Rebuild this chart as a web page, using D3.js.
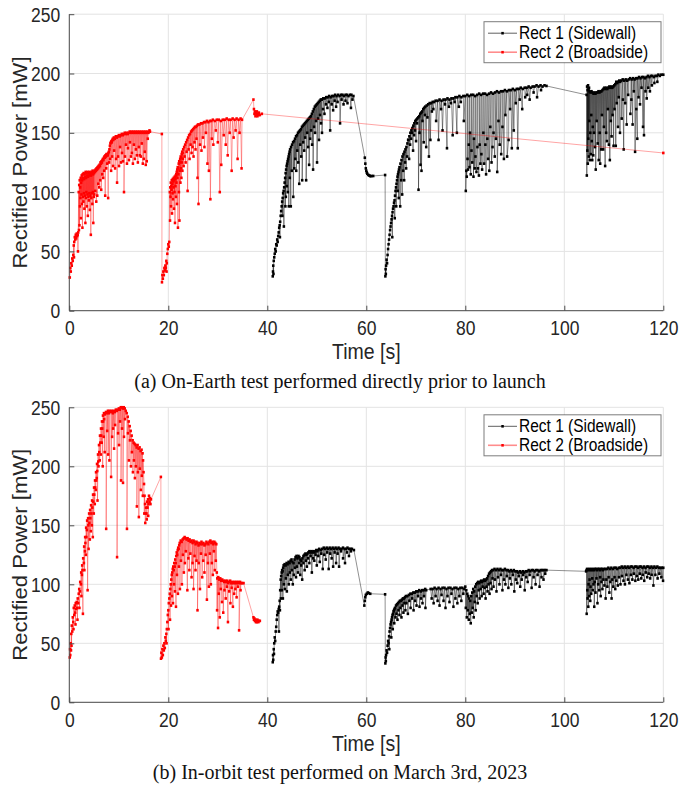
<!DOCTYPE html>
<html><head><meta charset="utf-8">
<script src="https://cdn.jsdelivr.net/npm/d3@7"></script>
<style>body{margin:0;background:#fff}</style>
</head><body><svg id="c" width="681" height="789"></svg>
<script>
// ---------------- DATA (time [s], power [mW]) ----------------
const xTicks = [0, 20, 40, 60, 80, 100, 120];
const yTicks = [0, 50, 100, 150, 200, 250];
const seriesNames = ["Rect 1 (Sidewall)", "Rect 2 (Broadside)"];
const captions = ["(a) On-Earth test performed directly prior to launch", "(b) In-orbit test performed on March 3rd, 2023"];

// Panel (a) Rect 2 upper envelope
const earthRect2Env = [[0.1,28],[0.2,36],[0.3,33],[0.4,40],[0.5,38],[0.6,44],[0.7,42],[0.8,47],[0.9,55],[1.0,58],[1.1,62],[1.2,60],[1.3,64],[1.4,61],[1.5,65],[1.6,63],[1.7,64],[1.8,66],[1.9,100],[2.0,106],[2.1,110],[2.2,104],[2.3,112],[2.4,108],[2.5,114],[2.6,110],[2.7,115],[2.8,112],[2.9,116],[3.0,111],[3.1,115],[3.2,113],[3.3,117],[3.4,112],[3.5,116],[3.6,114],[3.7,117],[3.8,113],[3.9,116],[4.0,114],[4.1,117],[4.2,115],[4.3,116],[4.4,114],[4.5,117],[4.6,116],[4.7,118],[4.8,115],[4.9,117],[5.0,116],[5.1,118],[5.2,117],[5.3,119],[5.4,118],[5.5,120],[5.6,119],[5.7,121],[5.8,120],[5.9,122],[6.0,121],[6.1,123],[6.2,122],[6.3,125],[6.4,124],[6.5,126],[6.6,125],[6.7,127],[6.8,128],[6.9,127],[7.0,129],[7.1,130],[7.2,129],[7.3,131],[7.4,130],[7.5,132],[7.6,131],[7.7,132],[7.8,131],[7.9,133],[8.0,134],[8.1,136],[8.2,139],[8.3,141],[8.4,142],[8.5,143],[8.6,142],[8.7,144],[8.8,145],[8.9,144],[9.0,146],[9.2,145],[9.4,147],[9.6,146],[9.8,147],[10.0,148],[10.2,147],[10.4,148],[10.6,149],[10.8,148],[11.0,149],[11.2,150],[11.4,149],[11.6,150],[11.8,149],[12.0,150],[12.2,151],[12.4,150],[12.6,151],[12.8,150],[13.0,151],[13.2,150],[13.4,151],[13.6,150],[13.8,151],[14.0,150],[14.2,151],[14.4,150],[14.6,151],[14.8,150],[15.0,151],[15.2,150],[15.4,151],[15.6,150],[15.8,151],[16.0,150],[16.2,152],[16.3,151],[18.7,149],
[18.72,24],[18.8,30],[18.9,27],[19.0,33],[19.1,30],[19.2,36],[19.3,34],[19.4,38],[19.5,36],[19.6,42],[19.7,40],[19.8,48],[19.9,52],[20.0,56],[20.1,54],[20.2,58],[20.3,100],[20.4,104],[20.5,108],[20.6,105],[20.7,110],[20.8,107],[20.9,111],[21.0,109],[21.1,112],[21.2,110],[21.3,113],[21.4,111],[21.5,114],[21.6,115],[21.7,117],[21.8,119],[21.9,121],[22.0,120],[22.1,124],[22.2,126],[22.3,125],[22.4,128],[22.5,130],[22.6,129],[22.7,132],[22.8,134],[22.9,133],[23.0,136],[23.2,138],[23.4,140],[23.6,142],[23.8,144],[24.0,146],[24.2,148],[24.4,149],[24.6,151],[24.8,152],[25.0,153],[25.2,154],[25.4,155],[25.6,155],[25.8,156],[26.0,157],[26.3,157],[26.6,158],[26.9,158],[27.2,159],[27.5,159],[27.8,160],[28.1,159],[28.4,160],[28.7,160],[29.0,161],[29.4,160],[29.8,161],[30.2,161],[30.6,160],[31.0,161],[31.4,161],[31.8,162],[32.2,161],[32.6,161],[33.0,162],[33.4,161],[33.8,162],[34.2,161],[34.6,162],[34.9,161],[37.2,178],[37.3,170],[37.4,166],[37.5,168],[37.6,164],[37.7,167],[37.8,165],[37.9,168],[38.0,164],[38.1,166],[38.2,165],[38.3,167],[38.5,165],[38.9,166],[120,133]];
// Panel (a) Rect 2 dropouts and scatter below the envelope
const earthRect2Dips = [[0.95,45],[1.75,50],[1.95,68],[2.05,72],[2.15,88],[2.25,95],[2.35,78],[2.45,98],[2.55,90],[2.65,70],[2.75,96],[2.85,92],[2.95,99],[3.05,86],[3.15,97],[3.25,74],[3.35,95],[3.45,100],[3.55,88],[3.65,98],[3.75,80],[3.85,96],[3.95,93],[4.05,99],[4.15,85],[4.25,97],[4.35,64],[4.45,95],[4.55,99],[4.65,90],[4.75,100],[4.85,74],[4.95,96],[5.05,98],[5.25,101],[5.45,92],[5.65,97],[5.85,107],[6.05,104],[6.25,110],[6.45,102],[6.65,115],[6.85,112],[7.05,118],[7.25,97],[7.45,120],[7.65,124],[7.85,95],[8.05,125],[8.25,128],[8.45,118],[8.65,130],[8.85,122],[9.05,135],[9.25,120],[9.45,128],[9.65,108],[9.85,130],[10.05,122],[10.25,138],[10.45,125],[10.65,133],[10.85,126],[11.05,100],[11.25,130],[11.45,140],[11.65,124],[11.85,137],[12.05,127],[12.25,142],[12.45,130],[12.65,133],[12.85,124],[13.05,140],[13.25,128],[13.45,136],[13.65,131],[13.85,125],[14.05,138],[14.25,131],[14.45,130],[14.65,141],[14.85,124],[15.05,128],[15.25,134],[15.45,123],[15.65,126],[15.85,145],
[19.65,33],[20.35,76],[20.45,96],[20.55,88],[20.65,102],[20.75,82],[20.85,99],[20.95,94],[21.05,104],[21.15,86],[21.25,100],[21.35,74],[21.45,105],[21.55,96],[21.65,108],[21.75,90],[21.85,112],[21.95,70],[22.05,115],[22.15,100],[22.25,76],[22.35,118],[22.45,108],[22.55,120],[22.65,112],[22.75,125],[22.85,118],[22.95,128],[23.1,122],[23.3,130],[23.5,125],[23.7,134],[23.9,101],[24.1,136],[24.3,128],[24.5,140],[24.7,133],[24.9,138],[25.1,130],[25.3,142],[25.5,136],[25.7,145],[25.9,112],[26.1,90],[26.4,140],[26.7,135],[27.0,146],[27.3,138],[27.6,150],[27.9,124],[28.2,118],[28.5,94],[28.8,145],[29.1,140],[29.6,152],[30.0,142],[30.4,100],[30.7,123],[31.2,148],[31.6,140],[32.0,131],[32.4,150],[32.8,118],[33.2,146],[33.6,152],[34.0,128],[34.4,150],[34.8,120]];

// Panel (a) Rect 1 upper envelope
const earthRect1Env = [[41.1,29],[41.15,33],[41.2,38],[41.25,31],[41.3,42],[41.4,45],[41.5,48],[41.6,52],[41.7,50],[41.8,56],[41.9,55],[42.0,60],[42.1,58],[42.2,63],[42.3,66],[42.4,70],[42.5,72],[42.6,75],[42.7,80],[42.8,84],[42.9,88],[43.0,92],[43.1,95],[43.2,99],[43.3,101],[43.4,104],[43.5,108],[43.6,112],[43.7,116],[43.8,119],[43.9,122],[44.0,124],[44.1,126],[44.2,128],[44.3,130],[44.4,132],[44.5,134],[44.6,136],[44.8,138],[45.0,140],[45.2,142],[45.4,143],[45.6,145],[45.8,147],[46.0,148],[46.2,150],[46.4,151],[46.6,152],[46.8,153],[47.0,155],[47.2,156],[47.4,157],[47.6,158],[47.8,159],[48.0,160],[48.2,161],[48.4,162],[48.6,163],[48.8,164],[49.0,166],[49.2,168],[49.4,170],[49.6,172],[49.8,173],[50.0,174],[50.2,175],[50.4,176],[50.6,177],[50.8,178],[51.0,178],[51.3,179],[51.6,179],[51.9,180],[52.2,180],[52.5,181],[52.8,180],[53.1,181],[53.4,181],[53.7,182],[54.0,181],[54.3,182],[54.6,181],[54.9,182],[55.2,182],[55.5,181],[55.8,182],[56.1,182],[56.4,181],[56.7,182],[57.0,182],[57.4,181],[59.7,129],[59.8,124],[59.9,120],[60.0,118],[60.1,116.5],[60.2,115.5],[60.4,114.5],[60.6,114],[60.8,113.5],[61.0,113.5],[61.4,113.6],[63.8,114.4],
[63.85,29],[63.9,35],[63.95,31],[64.0,38],[64.1,43],[64.2,40],[64.3,47],[64.4,52],[64.5,56],[64.6,60],[64.7,64],[64.8,68],[64.9,71],[65.0,74],[65.1,77],[65.2,80],[65.3,83],[65.4,86],[65.5,88],[65.6,91],[65.7,93],[65.8,97],[65.9,101],[66.0,104],[66.1,107],[66.2,110],[66.3,113],[66.4,115],[66.5,117],[66.6,119],[66.7,121],[66.9,124],[67.1,127],[67.3,130],[67.5,132],[67.7,134],[67.9,136],[68.1,138],[68.3,141],[68.5,144],[68.7,147],[68.9,150],[69.1,152],[69.3,154],[69.5,156],[69.7,158],[69.9,160],[70.1,161],[70.3,162],[70.5,163],[70.7,164],[70.9,166],[71.1,167],[71.3,168],[71.5,170],[71.7,171],[71.9,172],[72.2,173],[72.5,174],[72.8,175],[73.1,175],[73.4,176],[73.7,176],[74.0,177],[74.4,177],[74.8,178],[75.2,177],[75.6,178],[76.0,178],[76.4,179],[76.8,178],[77.2,179],[77.6,179],[78.0,180],[78.4,180],[78.8,181],[79.2,180],[79.6,181],[80.0,181],[80.4,182],[80.8,181],[81.2,182],[81.6,182],[82.0,181],[82.4,182],[82.8,183],[83.2,182],[83.6,183],[84.0,183],[84.4,182],[84.8,183],[85.2,184],[85.6,183],[86.0,184],[86.4,185],[86.8,184],[87.2,185],[87.6,185],[88.0,186],[88.4,185],[88.8,186],[89.2,186],[89.6,187],[90.0,186],[90.4,187],[90.8,187],[91.2,188],[91.6,187],[92.0,188],[92.4,188],[92.8,189],[93.2,188],[93.6,189],[94.0,189],[94.4,190],[94.8,189],[95.2,190],[95.6,189],[96.0,190],[96.4,189.5],
[104.5,182],[104.6,189],[104.7,186],[104.8,190],[104.9,187],[105.0,188],[105.1,185],[105.3,184],[105.5,185],[105.7,184],[105.9,183],[106.1,184],[106.3,183],[106.5,184],[106.7,184],[106.9,185],[107.1,184],[107.3,185],[107.5,185],[107.7,186],[107.9,187],[108.1,188],[108.3,187],[108.5,188],[108.7,187],[108.9,188],[109.1,189],[109.3,188],[109.5,189],[109.7,188],[109.9,189],[110.1,190],[110.3,191],[110.5,193],[110.7,192],[110.9,193],[111.1,194],[111.3,193],[111.5,194],[111.8,195],[112.1,194],[112.4,195],[112.7,194],[113.0,195],[113.3,196],[113.6,195],[113.9,196],[114.2,195],[114.5,196],[114.8,196],[115.1,197],[115.4,196],[115.7,197],[116.0,197],[116.3,196],[116.6,197],[116.9,198],[117.2,197],[117.5,198],[117.8,198],[118.1,197],[118.4,198],[118.7,198],[119.0,199],[119.3,198],[119.6,199],[120,199]];
// Panel (a) Rect 1 dropouts
const earthRect1Dips = [[42.55,62],[43.05,80],[43.35,71],[43.65,88],[43.75,96],[43.95,105],[44.15,100],[44.35,88],[44.55,112],[44.75,88],[44.95,118],[45.25,96],[45.45,120],[45.65,128],[45.85,118],[46.05,135],[46.25,125],[46.45,107],[46.65,140],[46.85,130],[47.05,110],[47.25,142],[47.45,135],[47.65,146],[47.85,110],[48.05,150],[48.25,138],[48.45,123],[48.65,145],[48.85,152],[49.05,140],[49.25,119],[49.45,155],[49.65,150],[49.85,160],[50.05,125],[50.25,162],[50.45,144],[50.65,165],[50.85,158],[51.05,150],[51.25,170],[51.55,166],[51.85,174],[52.15,171],[52.45,176],[52.7,152],[53.0,174],[53.3,169],[53.6,177],[53.9,172],[54.2,176],[54.7,158],[55.0,178],[55.4,174],[55.8,177],[56.2,175],[56.9,171],[57.2,178],
[65.25,62],[65.75,78],[66.05,88],[66.35,101],[66.55,95],[66.85,88],[67.05,110],[67.25,98],[67.45,118],[67.65,110],[67.85,125],[68.05,120],[68.25,130],[68.45,144],[68.65,128],[68.85,140],[69.05,145],[69.25,150],[69.45,135],[69.65,148],[69.85,152],[70.05,143],[70.25,158],[70.55,102],[70.75,150],[70.95,123],[71.15,118],[71.35,160],[71.6,142],[71.85,165],[72.1,138],[72.35,163],[72.65,130],[72.95,144],[73.25,168],[73.55,170],[74.1,160],[74.6,144],[75.1,170],[75.4,152],[75.9,174],[76.3,137],[76.7,172],[77.1,175],[77.45,148],[77.85,176],[78.3,150],[78.7,172],[79.1,176],[79.7,160],[80.1,101],[80.2,118],[80.3,113],[80.45,128],[80.55,119],[80.7,140],[80.85,121],[80.95,150],[81.1,115],[81.25,135],[81.4,125],[81.65,113],[81.75,145],[81.9,120],[82.05,130],[82.25,117],[82.45,138],[82.55,120],[82.75,114],[82.9,140],[83.05,124],[83.25,132],[83.4,119],[83.65,150],[83.8,124],[84.05,140],[84.2,115],[84.45,145],[84.6,128],[84.85,118],[85.05,155],[85.3,125],[85.5,138],[85.7,150],[85.95,130],[86.2,145],[86.45,117],[86.7,160],[86.95,140],[87.25,132],[87.5,155],[87.8,128],[88.1,165],[88.45,130],[88.75,144],[89.05,170],[89.4,137],[89.8,152],[90.2,175],[90.6,137],[91.0,178],[91.5,170],[92.1,180],[92.5,182],[93.0,178],[93.8,184],[94.5,180],[95.3,186],
[104.55,114],[104.65,135],[104.75,124],[104.85,145],[104.95,130],[105.05,160],[105.15,127],[105.25,150],[105.35,132],[105.45,165],[105.55,143],[105.65,127],[105.75,155],[105.85,131],[106.0,150],[106.2,138],[106.35,119],[106.55,160],[106.75,141],[106.95,127],[107.15,150],[107.25,124],[107.45,136],[107.6,165],[107.85,136],[108.0,155],[108.25,122],[108.45,150],[108.6,143],[108.8,170],[109.0,140],[109.2,127],[109.4,160],[109.55,147],[109.75,165],[109.95,139],[110.15,170],[110.4,139],[110.6,175],[110.85,155],[111.0,180],[111.25,150],[111.6,162],[111.85,178],[112.0,136],[112.3,175],[112.6,157],[112.9,182],[113.35,166],[113.55,178],[113.8,157],[114.05,185],[114.3,134],[114.55,170],[114.75,145],[115.0,180],[115.3,174],[115.6,188],[115.9,155],[116.1,148],[116.4,185],[116.65,179],[116.95,188],[117.3,185],[117.7,190],[118.2,192],[118.8,193]];

// Panel (b) Rect 2 upper envelope
const orbitRect2Env = [[0.1,38],[0.15,45],[0.2,40],[0.3,50],[0.35,44],[0.4,58],[0.5,65],[0.6,60],[0.7,72],[0.8,68],[0.9,80],[1.0,74],[1.1,82],[1.2,76],[1.3,84],[1.4,79],[1.5,85],[1.6,80],[1.7,88],[1.8,84],[1.9,92],[2.0,96],[2.2,102],[2.4,110],[2.6,116],[2.8,122],[3.0,132],[3.2,140],[3.4,148],[3.6,154],[3.8,156],[4.0,160],[4.2,163],[4.4,167],[4.6,171],[4.8,176],[5.0,182],[5.2,188],[5.4,195],[5.6,202],[5.8,210],[6.0,218],[6.2,226],[6.4,232],[6.6,238],[6.8,243],[7.0,245],[7.2,244],[7.4,246],[7.6,245],[7.8,247],[8.0,245],[8.2,247],[8.4,246],[8.6,247],[8.8,245],[9.0,247],[9.2,246],[9.4,248],[9.6,247],[9.8,248],[10.0,249],[10.2,248],[10.4,250],[10.6,250],[10.8,249],[11.0,250],[11.2,249],[11.4,247],[11.6,245],[11.8,242],[12.0,238],[12.2,234],[12.4,230],[12.6,226],[12.8,222],[13.0,220],[13.2,219],[13.4,218],[13.6,216],[13.8,218],[14.0,215],[14.2,216],[14.4,213],[14.6,214],[14.8,211],[14.9,205],[15.0,195],[15.1,185],[15.2,175],[15.3,168],[15.4,160],[15.5,165],[15.6,160],[15.7,170],[15.8,165],[15.9,172],[16.0,168],[16.1,175],[16.2,170],[16.3,173],[16.4,168],[16.5,172],[18.5,191],
[18.52,37],[18.6,42],[18.7,38],[18.8,45],[18.9,40],[19.0,48],[19.1,44],[19.2,50],[19.3,46],[19.4,55],[19.5,52],[19.6,58],[19.7,62],[19.8,68],[19.9,74],[20.0,78],[20.1,84],[20.2,88],[20.3,92],[20.4,96],[20.5,100],[20.6,104],[20.7,108],[20.8,110],[20.9,113],[21.0,115],[21.1,112],[21.2,118],[21.3,115],[21.4,121],[21.5,118],[21.6,124],[21.7,127],[21.8,125],[21.9,129],[22.0,131],[22.1,130],[22.2,133],[22.3,135],[22.5,137],[22.7,136],[22.9,138],[23.1,139],[23.3,140],[23.5,139],[23.7,138],[23.9,139],[24.1,137],[24.3,138],[24.5,136],[24.7,137],[24.9,135],[25.1,137],[25.3,136],[25.5,134],[25.7,136],[25.9,135],[26.1,133],[26.3,135],[26.5,134],[26.7,136],[26.9,134],[27.1,135],[27.3,133],[27.5,134],[27.7,136],[27.9,135],[28.1,134],[28.3,136],[28.5,137],[28.7,135],[28.9,136],[29.1,134],[29.3,136],[29.5,135],[29.7,134],[29.8,110],[29.9,105],[30.1,106],[30.3,104],[30.5,105],[30.7,103],[30.9,104],[31.1,103],[31.3,102],[31.5,103],[31.7,102],[31.9,103],[32.1,101],[32.3,102],[32.5,103],[32.7,101],[32.9,102],[33.1,101],[33.3,102],[33.5,101],[33.7,102],[33.9,101],[34.1,102],[34.3,101],[34.5,102],[34.7,101],[34.9,101],[35.2,101],[37.2,72],[37.3,70],[37.4,71],[37.5,69],[37.6,70],[37.7,68],[37.8,69],[37.9,68],[38.0,70],[38.1,69],[38.2,68],[38.3,69],[38.5,69]];
// Panel (b) Rect 2 dropouts and scatter below the envelope
const orbitRect2Dips = [[0.45,48],[0.85,62],[1.25,66],[1.65,70],[2.05,80],[2.15,94],[2.35,100],[2.45,90],[2.55,108],[2.65,112],[2.75,75],[2.95,118],[3.05,112],[3.15,128],[3.25,135],[3.35,125],[3.45,140],[3.55,146],[3.7,95],[3.85,150],[3.9,130],[4.05,152],[4.15,138],[4.25,156],[4.35,145],[4.45,160],[4.55,150],[4.65,165],[4.75,140],[4.85,170],[4.95,160],[5.05,176],[5.15,168],[5.25,182],[5.35,180],[5.45,188],[5.55,190],[5.65,196],[5.7,171],[5.85,204],[5.9,200],[6.05,212],[6.15,205],[6.25,220],[6.35,210],[6.45,226],[6.55,220],[6.65,232],[6.75,200],[6.85,238],[6.95,225],[7.05,240],[7.15,212],[7.45,147],[7.65,230],[7.85,210],[8.1,205],[8.45,191],[8.65,225],[8.85,232],[9.05,215],[9.25,235],[9.65,123],[9.85,228],[10.05,218],[10.25,238],[10.45,188],[10.65,232],[10.85,186],[11.05,225],[11.25,240],[11.65,147],[11.85,228],[12.05,205],[12.25,222],[12.45,200],[12.65,212],[12.85,195],[13.05,205],[13.25,190],[13.45,200],[13.65,166],[13.85,195],[14.05,157],[14.25,198],[14.45,180],[14.65,192],[14.85,175],[15.15,160],[15.35,152],[15.65,155],[15.95,158],
[19.65,50],[20.05,62],[20.35,70],[20.55,82],[20.75,90],[20.95,84],[21.15,100],[21.35,94],[21.55,81],[21.75,108],[21.95,92],[22.15,115],[22.35,96],[22.55,120],[22.75,100],[22.95,125],[23.15,110],[23.35,118],[23.55,128],[23.85,95],[24.05,122],[24.25,112],[24.45,126],[24.7,106],[24.9,118],[25.1,96],[25.3,124],[25.5,112],[25.7,120],[25.9,78],[26.15,118],[26.4,96],[26.6,126],[26.85,106],[27.05,120],[27.3,110],[27.55,125],[27.8,87],[28.0,118],[28.2,98],[28.4,126],[28.6,100],[28.8,118],[29.0,108],[29.2,128],[29.4,112],[29.6,120],[29.85,78],[30.05,63],[30.2,92],[30.4,72],[30.6,96],[30.85,85],[31.1,76],[31.35,95],[31.6,88],[31.85,98],[32.05,68],[32.3,94],[32.55,84],[32.8,97],[33.05,81],[33.3,92],[33.55,96],[33.8,89],[34.05,98],[34.3,61],[34.6,95]];

// Panel (b) Rect 1 upper envelope
const orbitRect1Env = [[41.1,34],[41.15,40],[41.2,36],[41.3,45],[41.35,41],[41.4,50],[41.5,55],[41.6,52],[41.7,60],[41.8,64],[41.9,70],[42.0,74],[42.1,77],[42.2,76],[42.3,79],[42.4,81],[42.5,86],[42.6,95],[42.7,104],[42.8,107],[42.9,110],[43.0,112],[43.1,111],[43.2,114],[43.3,116],[43.5,117],[43.7,116],[43.9,118],[44.1,117],[44.3,119],[44.5,118],[44.7,120],[44.9,121],[45.1,119],[45.3,118],[45.5,121],[45.7,123],[45.9,124],[46.1,122],[46.3,124],[46.5,123],[46.7,121],[46.9,120],[47.1,122],[47.3,124],[47.5,125],[47.7,126],[47.9,125],[48.1,126],[48.3,127],[48.5,128],[48.7,127],[48.9,128],[49.1,127],[49.3,128],[49.5,127],[49.7,128],[49.9,129],[50.1,128],[50.3,129],[50.5,130],[50.8,129],[51.1,130],[51.4,131],[51.7,130],[52.0,131],[52.3,130],[52.6,131],[52.9,130],[53.2,131],[53.5,130],[53.8,131],[54.1,130],[54.4,131],[54.7,130],[55.0,130],[55.3,131],[55.6,130],[55.9,130],[56.2,131],[56.5,130],[56.8,130],[57.1,130],[57.5,129],[59.6,82],[59.7,86],[59.8,89],[59.9,91],[60.1,92],[60.3,93],[60.5,92.5],[60.8,92],[63.8,91.5],
[63.85,33],[63.9,38],[63.95,35],[64.0,40],[64.1,44],[64.2,42],[64.3,48],[64.4,52],[64.5,50],[64.6,56],[64.7,60],[64.8,63],[64.9,66],[65.0,68],[65.1,70],[65.2,72],[65.3,74],[65.4,75],[65.5,77],[65.6,78],[65.7,79],[65.8,80],[66.0,82],[66.2,83],[66.4,84],[66.6,85],[66.8,86],[67.0,86],[67.2,87],[67.4,88],[67.6,88],[67.8,89],[68.0,90],[68.3,90],[68.6,91],[68.9,92],[69.2,92],[69.5,93],[69.8,93],[70.1,94],[70.4,94],[70.7,95],[71.0,94],[71.3,95],[71.6,95],[71.9,96],[72.1,95],[73.0,96],[73.4,96],[73.8,97],[74.2,96],[74.6,97],[75.0,96],[75.4,97],[75.8,97],[76.2,96],[76.6,97],[77.0,97],[77.4,96],[77.8,97],[78.2,97],[78.6,96],[79.0,97],[79.4,97],[79.8,96],[80.0,98],[80.2,95],[80.4,92],[80.6,90],[80.8,88],[81.0,86],[81.2,90],[81.4,93],[81.6,96],[81.8,94],[82.0,98],[82.2,100],[82.4,101],[82.6,102],[82.8,101],[83.0,102],[83.2,103],[83.4,102],[83.6,103],[83.8,104],[84.0,103],[84.2,104],[84.4,105],[84.6,107],[84.8,109],[85.0,110],[85.2,111],[85.4,112],[85.6,112],[85.9,113],[86.2,112],[86.5,113],[86.8,112],[87.1,113],[87.4,112],[87.7,112],[88.0,113],[88.3,112],[88.6,112],[88.9,111],[89.2,112],[89.5,111],[89.8,112],[90.1,111],[90.4,111],[90.7,110],[91.0,111],[91.3,110],[91.6,111],[91.9,110],[92.2,111],[92.5,111],[92.8,112],[93.1,111],[93.4,112],[93.7,112],[94.0,111],[94.3,112],[94.6,112],[94.9,111],[95.2,112],[95.5,112],[95.8,112],[96.1,112],[96.4,112],
[104.4,111],[104.5,112],[104.6,113],[104.8,112],[105.0,113],[105.2,112],[105.4,113],[105.6,112],[105.8,113],[106.0,112],[106.2,113],[106.4,113],[106.6,112],[106.8,113],[107.0,113],[107.2,112],[107.4,113],[107.6,113],[107.8,112],[108.0,113],[108.3,113],[108.6,113],[108.9,114],[109.2,113],[109.5,114],[109.8,113],[110.1,114],[110.4,114],[110.7,113],[111.0,114],[111.3,114],[111.6,115],[111.9,114],[112.2,115],[112.5,114],[112.8,115],[113.1,114],[113.4,115],[113.7,115],[114.0,114],[114.3,115],[114.6,115],[114.9,114],[115.2,115],[115.5,115],[115.8,114],[116.1,115],[116.4,114],[116.7,115],[117.0,115],[117.3,114],[117.6,115],[117.9,114],[118.2,115],[118.5,114],[118.8,115],[119.1,114],[119.4,114],[119.7,114],[120,114]];
// Panel (b) Rect 1 dropouts
const orbitRect1Dips = [[42.35,60],[42.55,78],[42.75,88],[42.95,95],[43.15,88],[43.35,100],[43.55,96],[43.75,105],[43.95,94],[44.15,108],[44.35,100],[44.55,110],[44.75,104],[44.95,112],[45.15,100],[45.35,108],[45.6,114],[45.8,106],[46.0,115],[46.2,110],[46.45,118],[46.65,108],[46.85,116],[47.05,104],[47.3,118],[47.55,112],[47.8,120],[48.0,115],[48.25,122],[48.5,118],[48.75,124],[49.0,110],[49.25,122],[49.5,120],[49.75,125],[50.0,116],[50.3,124],[50.6,119],[50.9,126],[51.2,113],[51.5,125],[51.8,121],[52.1,127],[52.4,113],[52.7,126],[53.0,122],[53.3,115],[53.6,127],[53.9,118],[54.2,126],[54.5,115],[54.9,128],[55.3,122],[55.7,118],[56.1,127],[56.5,124],[56.9,128],
[64.65,45],[65.05,55],[65.35,62],[65.65,67],[65.9,72],[66.1,75],[66.3,70],[66.5,78],[66.7,74],[66.9,80],[67.1,72],[67.3,82],[67.5,76],[67.7,84],[67.9,78],[68.1,84],[68.4,75],[68.7,86],[68.95,80],[69.25,88],[69.55,78],[69.85,86],[70.15,82],[70.45,90],[70.75,81],[71.05,88],[71.35,84],[71.65,90],[71.95,80],[73.2,88],[73.6,84],[74.0,90],[74.4,86],[74.8,82],[75.2,91],[75.6,86],[76.0,80],[76.4,90],[76.8,85],[77.2,92],[77.6,81],[78.0,88],[78.4,84],[78.8,90],[79.2,86],[79.6,92],[80.1,80],[80.3,72],[80.5,78],[80.7,70],[80.9,75],[81.1,67],[81.3,76],[81.5,80],[81.7,72],[81.9,85],[82.1,78],[82.3,90],[82.5,84],[82.7,95],[82.9,88],[83.1,96],[83.3,90],[83.5,98],[83.7,92],[83.9,97],[84.1,88],[84.3,98],[84.5,94],[84.7,100],[84.9,92],[85.1,101],[85.3,96],[85.5,105],[85.7,98],[86.0,104],[86.3,94],[86.6,106],[86.9,100],[87.2,108],[87.5,95],[87.8,104],[88.1,100],[88.4,107],[88.7,97],[89.0,105],[89.3,100],[89.6,108],[89.9,94],[90.2,104],[90.5,101],[90.8,107],[91.1,98],[91.4,104],[91.7,108],[92.0,95],[92.3,106],[92.6,102],[93.0,108],[93.4,97],[93.8,106],[94.2,100],[94.6,108],[95.0,98],[95.4,106],[95.8,104],[96.15,109],
[104.52,75],[104.65,95],[104.7,88],[104.85,81],[104.9,100],[105.05,90],[105.1,104],[105.25,86],[105.3,98],[105.45,92],[105.65,105],[105.75,95],[105.9,100],[106.05,81],[106.15,102],[106.3,93],[106.5,105],[106.7,84],[106.85,100],[107.05,95],[107.25,106],[107.35,90],[107.5,102],[107.7,96],[107.9,104],[108.1,99],[108.35,88],[108.5,104],[108.7,98],[108.95,106],[109.1,93],[109.3,102],[109.55,88],[109.7,104],[109.9,98],[110.15,106],[110.3,96],[110.5,103],[110.8,99],[111.05,106],[111.35,100],[111.65,107],[111.95,103],[112.25,100],[112.55,108],[112.85,104],[113.15,101],[113.45,108],[113.75,104],[114.05,109],[114.35,103],[114.65,107],[114.95,104],[115.25,109],[115.55,105],[115.85,108],[116.15,103],[116.45,110],[116.75,106],[117.05,109],[117.35,105],[117.65,108],[118.0,99],[118.4,108],[118.85,105],[119.2,109],[119.6,106],[119.95,103]];

// ---------------- DRAWING ----------------
const svg = d3.select("#c");
const X0 = 69.3, X1 = 663.3;
const S = 1.14; // vertical stretch of the embedded figure's lettering
const panels = [
  {yTop: 14.2, yBot: 310.7, tickBase: 335, labelBase: 359, capBase: 388,
   rect1: [earthRect1Env, earthRect1Dips], rect2: [earthRect2Env, earthRect2Dips], caption: captions[0]},
  {yTop: 407.3, yBot: 702.3, tickBase: 727, labelBase: 751, capBase: 779,
   rect1: [orbitRect1Env, orbitRect1Dips], rect2: [orbitRect2Env, orbitRect2Dips], caption: captions[1]}
];
const sans = "'Liberation Sans', Arial, Helvetica, sans-serif";
const serif = "'Liberation Serif', 'Times New Roman', serif";
const axisCol = "#4d4d4d", textCol = "#262626", gridCol = "#e3e3e3";

function merge(env, dips) {
  return env.concat(dips).map((d, i) => [d[0], d[1], i]).sort((a, b) => a[0] - b[0] || a[2] - b[2]);
}

panels.forEach((p, pi) => {
  const x = d3.scaleLinear().domain([0, 120]).range([X0, X1]);
  const y = d3.scaleLinear().domain([0, 250]).range([p.yBot, p.yTop]);
  const g = svg.append("g");
  const clipId = "clip" + pi;
  g.append("clipPath").attr("id", clipId).append("rect")
    .attr("x", X0 - 3).attr("y", p.yTop - 3).attr("width", X1 - X0 + 6).attr("height", p.yBot - p.yTop + 6);

  // grid
  g.append("g").selectAll("line").data(xTicks).join("line")
    .attr("x1", d => x(d)).attr("x2", d => x(d)).attr("y1", p.yTop).attr("y2", p.yBot)
    .attr("stroke", gridCol).attr("stroke-width", 1);
  g.append("g").selectAll("line").data(yTicks).join("line")
    .attr("x1", X0).attr("x2", X1).attr("y1", d => y(d)).attr("y2", d => y(d))
    .attr("stroke", gridCol).attr("stroke-width", 1);

  // series
  const line = d3.line().x(d => x(d[0])).y(d => y(d[1]));
  const series = [
    {data: merge(p.rect1[0], p.rect1[1]), color: "#000000", lineOp: 0.55},
    {data: merge(p.rect2[0], p.rect2[1]), color: "#ff0000", lineOp: 0.45}
  ];
  const plotG = g.append("g").attr("clip-path", `url(#${clipId})`);
  series.forEach(s => {
    plotG.append("path").datum(s.data).attr("d", line)
      .attr("fill", "none").attr("stroke", s.color).attr("stroke-opacity", s.lineOp).attr("stroke-width", 0.8);
    plotG.append("g").selectAll("rect").data(s.data).join("rect")
      .attr("x", d => x(d[0]) - 1.25).attr("y", d => y(d[1]) - 1.35)
      .attr("width", 2.5).attr("height", 2.7).attr("fill", s.color);
  });

  // axes (left & bottom, inward ticks)
  const xAxis = d3.axisBottom(x).tickValues(xTicks).tickSize(-5).tickPadding(0).tickFormat(d3.format("d"));
  const yAxis = d3.axisLeft(y).tickValues(yTicks).tickSize(-5).tickFormat(d3.format("d"));
  const xa = g.append("g").attr("transform", `translate(0,${p.yBot})`).call(xAxis);
  const ya = g.append("g").attr("transform", `translate(${X0},0)`).call(yAxis);
  [xa, ya].forEach(a => {
    a.select(".domain").attr("stroke", axisCol).attr("stroke-width", 1);
    a.selectAll(".tick line").attr("stroke", axisCol);
    a.selectAll(".tick text").attr("fill", textCol).style("font-family", sans).style("font-size", "17.5px");
  });
  xa.select(".domain").attr("d", `M${X0},0H${X1}`);
  ya.select(".domain").attr("d", `M0,${p.yBot}V${p.yTop}`);
  xa.selectAll(".tick text").attr("dy", null).attr("y", 0)
    .attr("transform", `translate(0,${p.tickBase - p.yBot}) scale(1,${S})`);
  ya.selectAll(".tick text").attr("x", -9).attr("dy", "0.35em").attr("transform", `scale(1,${S})`);

  // axis labels
  g.append("text").attr("transform", `translate(${(X0 + X1) / 2},${p.labelBase}) scale(1,${S})`)
    .attr("text-anchor", "middle")
    .style("font-family", sans).style("font-size", "19.5px").attr("fill", textCol).text("Time [s]");
  g.append("text").attr("transform", `translate(27,${(p.yTop + p.yBot) / 2}) rotate(-90)`)
    .attr("text-anchor", "middle").style("font-family", sans).style("font-size", "19.5px")
    .attr("textLength", 212).attr("lengthAdjust", "spacingAndGlyphs")
    .attr("fill", textCol).text("Rectified Power [mW]");

  // caption
  svg.append("text").attr("x", 340).attr("y", p.capBase).attr("text-anchor", "middle")
    .style("font-family", serif).style("font-size", "20px").attr("fill", "#111").text(p.caption);

  // legend
  const lx = 484, ly = p.yTop + 7.5, lw = 177, lh = 41;
  const lg = g.append("g");
  lg.append("rect").attr("x", lx).attr("y", ly).attr("width", lw).attr("height", lh)
    .attr("fill", "#fff").attr("stroke", "#262626").attr("stroke-opacity", 0.6).attr("stroke-width", 1);
  const legItems = [{name: seriesNames[0], color: "#000", op: 0.7}, {name: seriesNames[1], color: "#ff0000", op: 0.45}];
  legItems.forEach((it, i) => {
    const cy = ly + 11.5 + i * 19;
    lg.append("line").attr("x1", lx + 4).attr("x2", lx + 33).attr("y1", cy).attr("y2", cy)
      .attr("stroke", it.color).attr("stroke-opacity", it.op).attr("stroke-width", i === 1 ? 1.6 : 0.9);
    lg.append("rect").attr("x", lx + 17.3).attr("y", cy - 1.3).attr("width", 2.5).attr("height", 2.6).attr("fill", it.color);
    lg.append("text").attr("transform", `translate(${lx + 35},${cy}) scale(1,${S})`).attr("dy", "0.34em")
      .style("font-family", sans).style("font-size", "15.5px").attr("fill", "#000").text(it.name);
  });
});
</script></body></html>
